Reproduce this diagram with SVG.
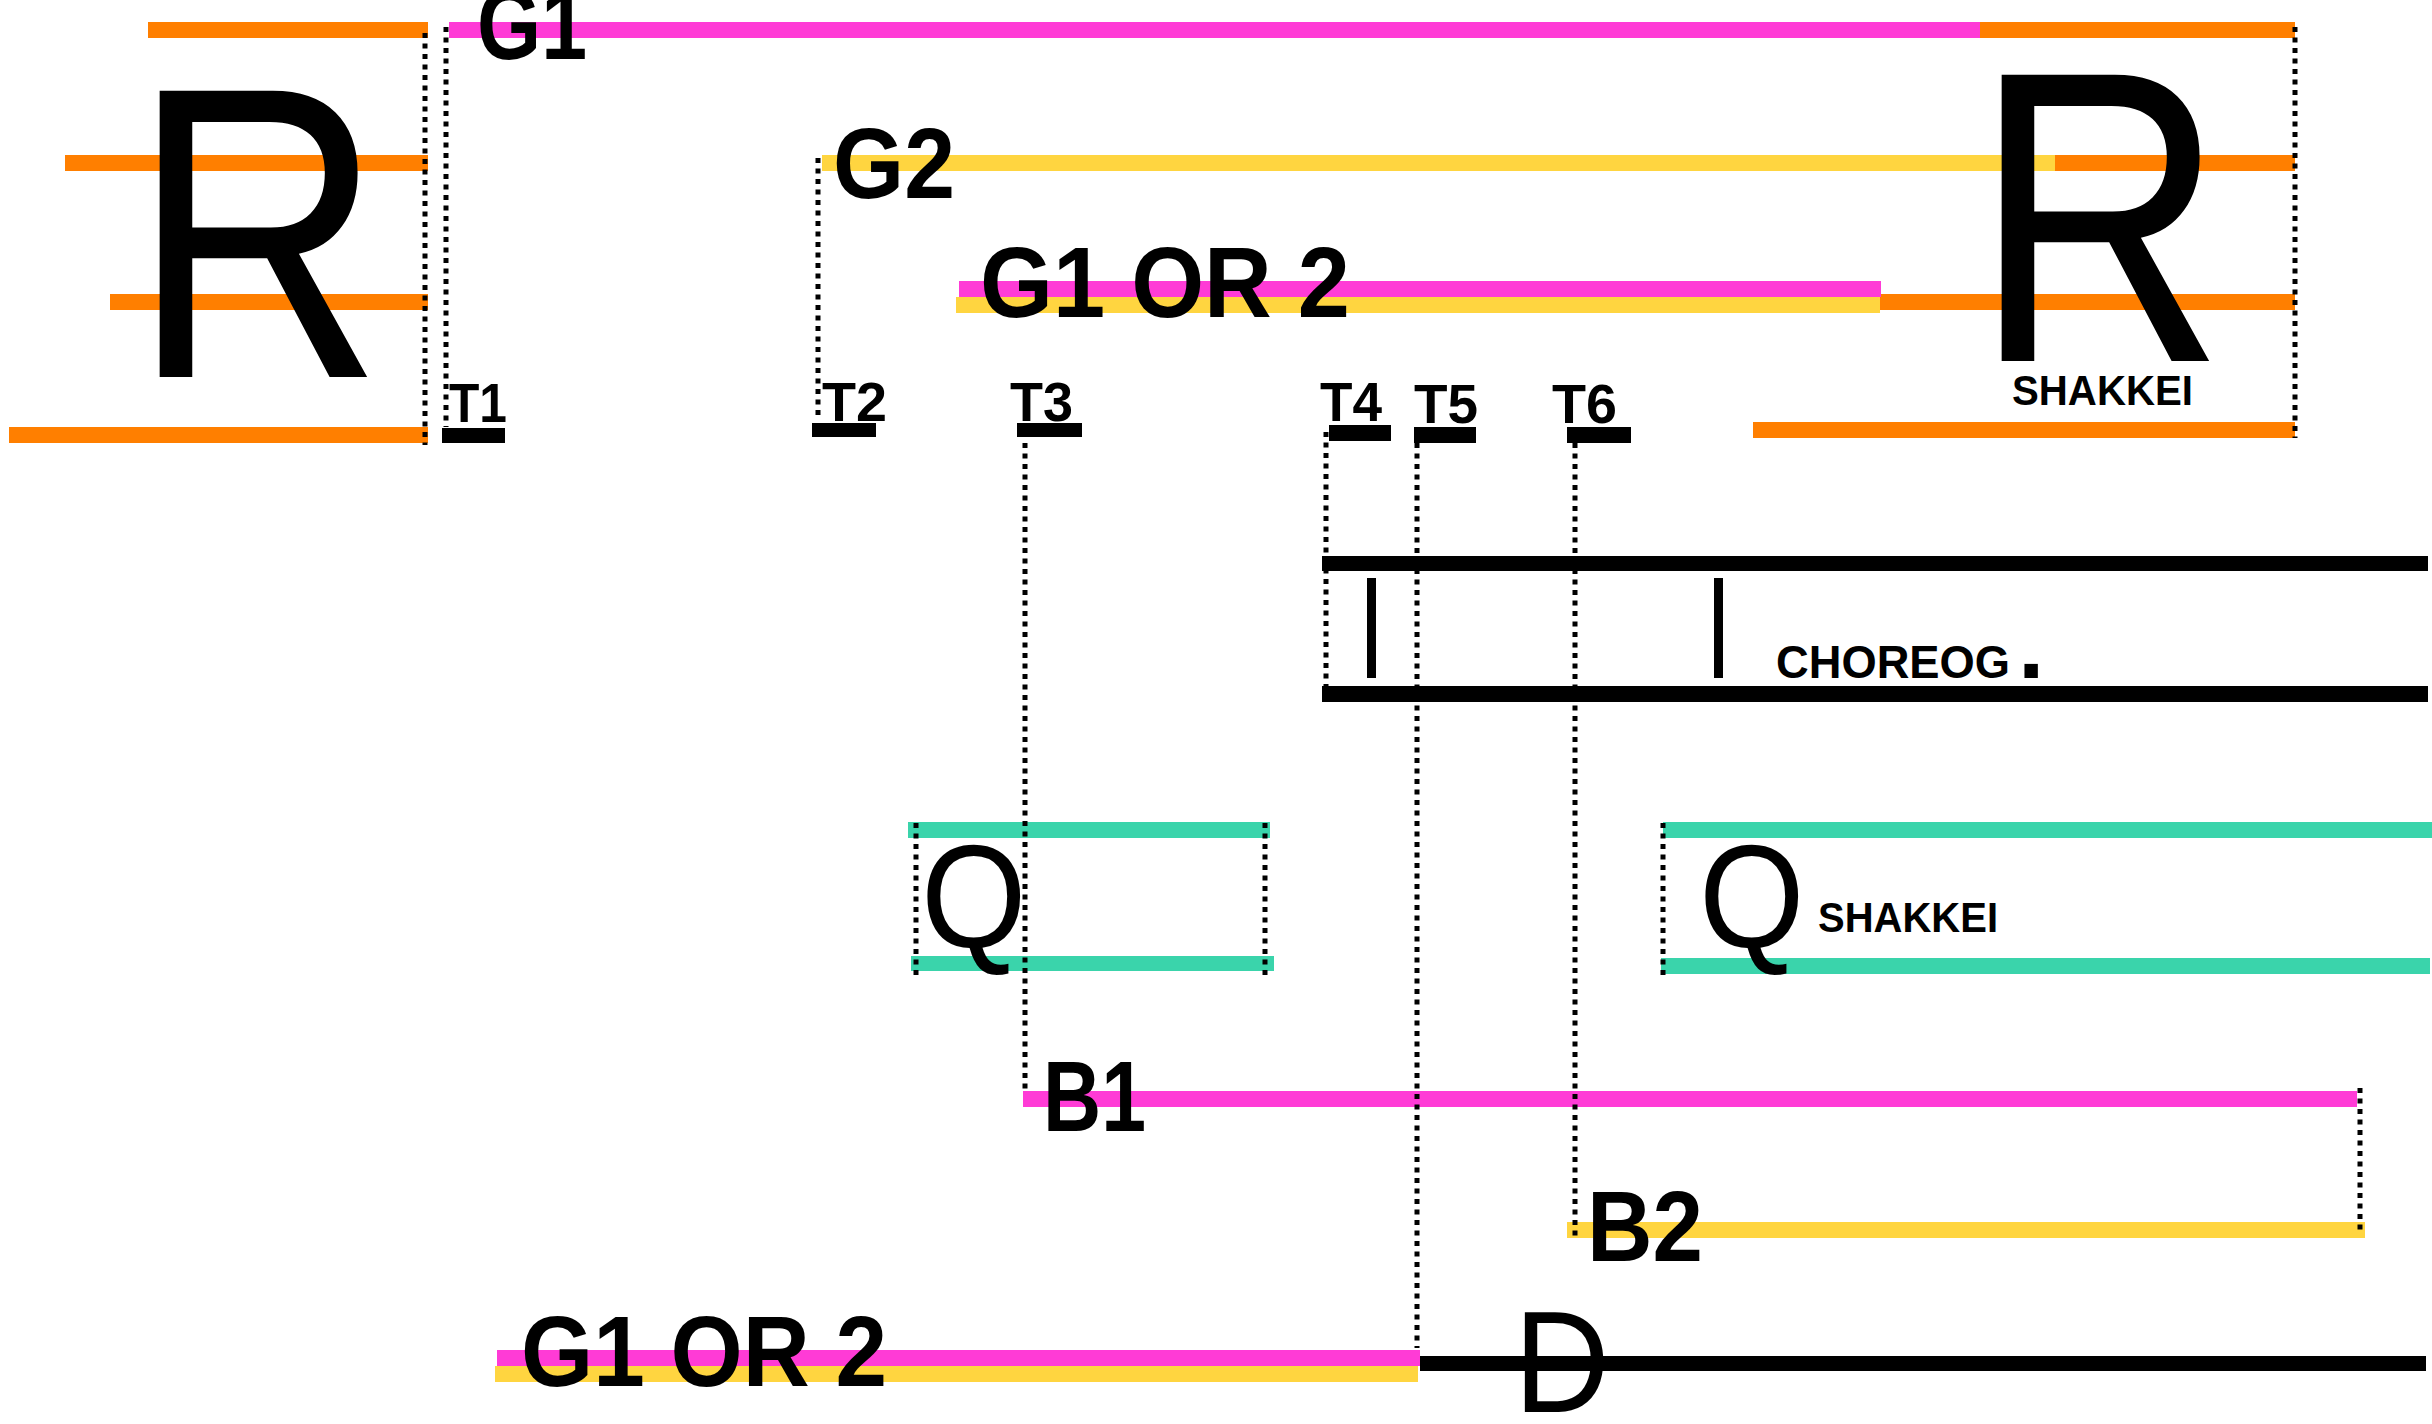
<svg xmlns="http://www.w3.org/2000/svg" width="2432" height="1424" viewBox="0 0 2432 1424">
<style>
.or{fill:#ff7f00}.pk{fill:#ff3bd6}.ye{fill:#ffd540}.te{fill:#3ad4ab}.bk{fill:#000}
.lb{font-family:"Liberation Sans",Arial,sans-serif;font-weight:bold;fill:#000}
.big{font-family:"Liberation Sans",Arial,sans-serif;font-weight:normal;fill:#000}
.dot{stroke:#000;stroke-width:5;stroke-dasharray:5 5.5;fill:none}
</style>
<rect width="2432" height="1424" fill="#fff"/>
<g id="rest-left">
<rect class="or" x="148" y="22" width="280" height="16"/>
<rect class="or" x="65" y="155" width="363" height="16"/>
<rect class="or" x="110" y="294" width="318" height="16"/>
<rect class="or" x="9" y="427" width="419" height="16"/>
<text class="big" font-size="416" transform="translate(131,377) scale(0.84,1)">R</text>
</g>
<g id="g1">
<rect class="pk" x="449" y="22" width="1531" height="16"/>
<rect class="or" x="1980" y="22" width="315" height="16"/>
<text class="lb" x="477" y="59" font-size="100" textLength="110" lengthAdjust="spacingAndGlyphs">G1</text>
</g>
<g id="g2">
<rect class="ye" x="822" y="155" width="1233" height="16"/>
<rect class="or" x="2055" y="155" width="240" height="16"/>
<text class="lb" x="833" y="198" font-size="100" textLength="122" lengthAdjust="spacingAndGlyphs">G2</text>
</g>
<g id="g1or2-top">
<rect class="or" x="1880" y="294" width="415" height="16"/>
<rect class="ye" x="956" y="297" width="924" height="16"/>
<rect class="pk" x="959" y="281" width="922" height="16"/>
<text class="lb" x="980" y="317" font-size="100" textLength="370" lengthAdjust="spacingAndGlyphs">G1 OR 2</text>
</g>
<g id="rest-right">
<rect class="or" x="1753" y="422" width="542" height="16"/>
<text class="big" font-size="416" transform="translate(1973,361) scale(0.84,1)">R</text>
<text class="lb" x="2012" y="405" font-size="42" textLength="181" lengthAdjust="spacingAndGlyphs">SHAKKEI</text>
</g>
<g id="t1"><rect class="bk" x="442" y="428" width="63" height="15"/><text class="lb" x="449" y="422" font-size="55" textLength="58" lengthAdjust="spacingAndGlyphs">T1</text></g>
<g id="t2"><rect class="bk" x="812" y="423" width="64" height="14"/><text class="lb" x="822" y="421" font-size="55" textLength="65" lengthAdjust="spacingAndGlyphs">T2</text></g>
<g id="t3"><rect class="bk" x="1017" y="423" width="65" height="14"/><text class="lb" x="1010" y="421" font-size="55" textLength="63" lengthAdjust="spacingAndGlyphs">T3</text></g>
<g id="t4"><rect class="bk" x="1329" y="425" width="62" height="16"/><text class="lb" x="1320" y="421" font-size="55" textLength="62" lengthAdjust="spacingAndGlyphs">T4</text></g>
<g id="t5"><rect class="bk" x="1414" y="427" width="62" height="16"/><text class="lb" x="1414" y="423" font-size="55" textLength="64" lengthAdjust="spacingAndGlyphs">T5</text></g>
<g id="t6"><rect class="bk" x="1567" y="427" width="64" height="16"/><text class="lb" x="1552" y="423" font-size="55" textLength="65" lengthAdjust="spacingAndGlyphs">T6</text></g>
<g id="choreog">
<rect class="bk" x="1322" y="556" width="1106" height="15"/>
<rect class="bk" x="1322" y="686" width="1106" height="16"/>
<rect class="bk" x="1367" y="578" width="9" height="100"/>
<rect class="bk" x="1714" y="578" width="9" height="100"/>
<text class="lb" x="1776" y="678" font-size="46" textLength="234" lengthAdjust="spacingAndGlyphs">CHOREOG</text>
<text class="lb" x="2018" y="678" font-size="95">.</text>
</g>
<g id="q-left">
<rect class="te" x="908" y="822" width="362" height="16"/>
<rect class="te" x="911" y="956" width="363" height="15"/>
<text class="big" font-size="146" transform="translate(921,947) scale(0.93,1)">Q</text>
</g>
<g id="q-right">
<rect class="te" x="1663" y="822" width="769" height="16"/>
<rect class="te" x="1661" y="958" width="769" height="16"/>
<text class="big" font-size="146" transform="translate(1699,947) scale(0.93,1)">Q</text>
<text class="lb" x="1818" y="932" font-size="42" textLength="180" lengthAdjust="spacingAndGlyphs">SHAKKEI</text>
</g>
<g id="b1">
<rect class="pk" x="1023" y="1091" width="1334" height="16"/>
<text class="lb" x="1043" y="1131" font-size="100" textLength="103" lengthAdjust="spacingAndGlyphs">B1</text>
</g>
<g id="b2">
<rect class="ye" x="1567" y="1222" width="798" height="16"/>
<text class="lb" x="1587" y="1261" font-size="100" textLength="116" lengthAdjust="spacingAndGlyphs">B2</text>
</g>
<g id="g1or2-bottom">
<rect class="ye" x="495" y="1366" width="923" height="16"/>
<rect class="pk" x="497" y="1350" width="923" height="16"/>
<text class="lb" x="521" y="1386" font-size="100" textLength="366" lengthAdjust="spacingAndGlyphs">G1 OR 2</text>
</g>
<g id="d">
<rect class="bk" x="1420" y="1356" width="1006" height="15"/>
<text class="big" font-size="144" transform="translate(1514,1412) scale(0.92,1)">D</text>
</g>
<g id="connectors">
<line class="dot" x1="425" y1="33" x2="425" y2="445"/>
<line class="dot" x1="446" y1="27" x2="446" y2="427"/>
<line class="dot" x1="2295" y1="27" x2="2295" y2="438"/>
<line class="dot" x1="818" y1="158" x2="818" y2="420"/>
<line class="dot" x1="1025" y1="443" x2="1025" y2="1090"/>
<line class="dot" x1="1326" y1="432" x2="1326" y2="703"/>
<line class="dot" x1="1417" y1="443" x2="1417" y2="1348"/>
<line class="dot" x1="1575" y1="443" x2="1575" y2="1240"/>
<line class="dot" x1="916" y1="823" x2="916" y2="977"/>
<line class="dot" x1="1265" y1="823" x2="1265" y2="977"/>
<line class="dot" x1="1663" y1="823" x2="1663" y2="977"/>
<line class="dot" x1="2360" y1="1088" x2="2360" y2="1232"/>
</g>
</svg>
